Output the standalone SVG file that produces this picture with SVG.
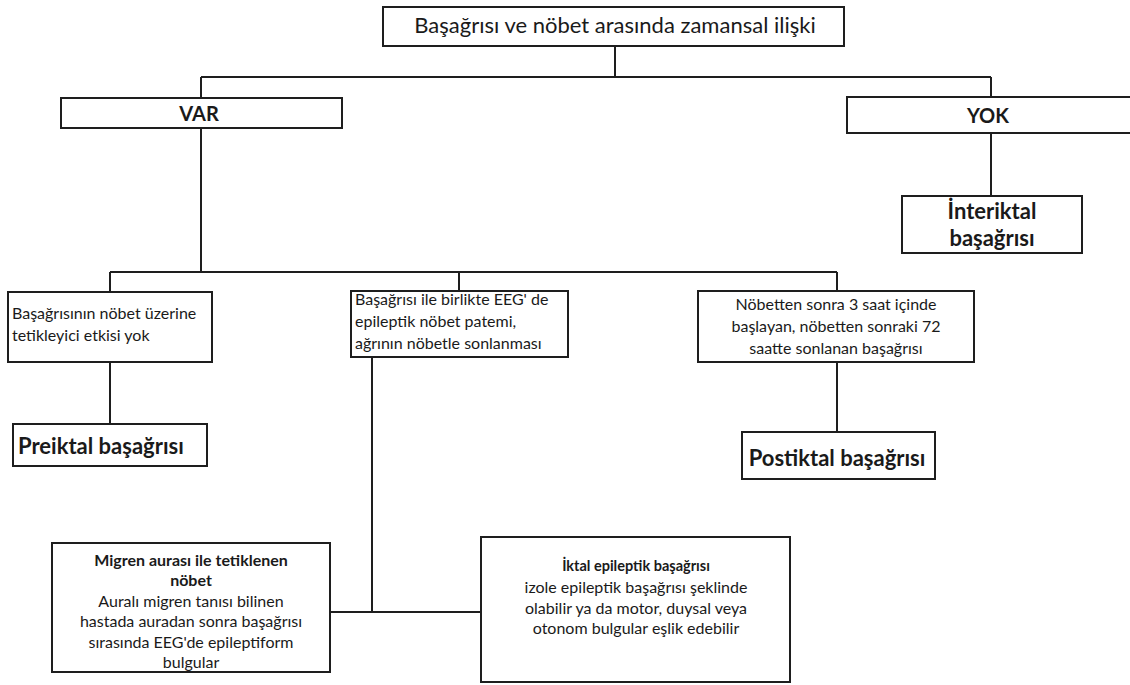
<svg xmlns="http://www.w3.org/2000/svg" width="1130" height="685" viewBox="0 0 1130 685">
<style>
.box{fill:#fff;stroke:#1e1e1e;stroke-width:2}
.c{fill:none;stroke:#1e1e1e;stroke-width:2}
text{font-family:Lato,"Liberation Sans","DejaVu Sans",sans-serif;fill:#1a1a1a}
.t{font-size:16px}
.m{text-anchor:middle}
.b{font-weight:bold}
</style>
<rect width="1130" height="685" fill="#fff"/>
<g id="connectors">
<path class="c" d="M615 46V77M201 77H991M201 77V98M991 77V97M201 128V272M110 272H837M110 272V292M459 272V291M837 272V291M110 362V424M837 362V432M991 133V196M372 357V612M330 612H481"/>
</g>
<g id="root"><rect class="box" x="383" y="7" width="461" height="39"/><text class="m" x="615" y="33" font-size="22">Başağrısı ve nöbet arasında zamansal ilişki</text></g>
<g id="var"><rect class="box" x="61" y="98" width="281" height="30"/><text class="m b" x="199" y="121" font-size="20">VAR</text></g>
<g id="yok"><rect class="box" x="847" y="97" width="290" height="36"/><text class="m b" x="988" y="123" font-size="20">YOK</text></g>
<g id="interiktal"><rect class="box" x="902" y="196" width="180" height="57"/><text class="m b" x="992" y="219" font-size="22">İnteriktal</text><text class="m b" x="992" y="246" font-size="22">başağrısı</text></g>
<g id="n1"><rect class="box" x="8" y="292" width="204" height="70"/><text class="t" x="12" y="319">Başağrısının nöbet üzerine</text><text class="t" x="12" y="341">tetikleyici etkisi yok</text></g>
<g id="n2"><rect class="box" x="351" y="291" width="217" height="66"/><text class="t" x="355" y="305">Başağrısı ile birlikte EEG' de</text><text class="t" x="355" y="327">epileptik nöbet patemi,</text><text class="t" x="355" y="349">ağrının nöbetle sonlanması</text></g>
<g id="n3"><rect class="box" x="698" y="291" width="276" height="71"/><text class="t m" x="836" y="310">Nöbetten sonra 3 saat içinde</text><text class="t m" x="836" y="332">başlayan, nöbetten sonraki 72</text><text class="t m" x="836" y="354">saatte sonlanan başağrısı</text></g>
<g id="preiktal"><rect class="box" x="13" y="424" width="194" height="42"/><text class="b" x="18" y="454" font-size="22">Preiktal başağrısı</text></g>
<g id="postiktal"><rect class="box" x="742" y="432" width="193" height="47"/><text class="m b" x="837" y="466" font-size="22">Postiktal başağrısı</text></g>
<g id="migren"><rect class="box" x="52" y="543" width="278" height="129"/>
<text class="t m b" x="191" y="566">Migren aurası ile tetiklenen</text>
<text class="t m b" x="191" y="586">nöbet</text>
<text class="t m" x="191" y="607">Auralı migren tanısı bilinen</text>
<text class="t m" x="191" y="627">hastada auradan sonra başağrısı</text>
<text class="t m" x="191" y="648">sırasında EEG'de epileptiform</text>
<text class="t m" x="191" y="668">bulgular</text></g>
<g id="iktal"><rect class="box" x="481" y="537" width="309" height="145"/>
<text class="m b" x="636" y="571" font-size="14.5">İktal epileptik başağrısı</text>
<text class="t m" x="636" y="593">izole epileptik başağrısı şeklinde</text>
<text class="t m" x="636" y="614">olabilir ya da motor, duysal veya</text>
<text class="t m" x="636" y="634">otonom bulgular eşlik edebilir</text></g>
</svg>
